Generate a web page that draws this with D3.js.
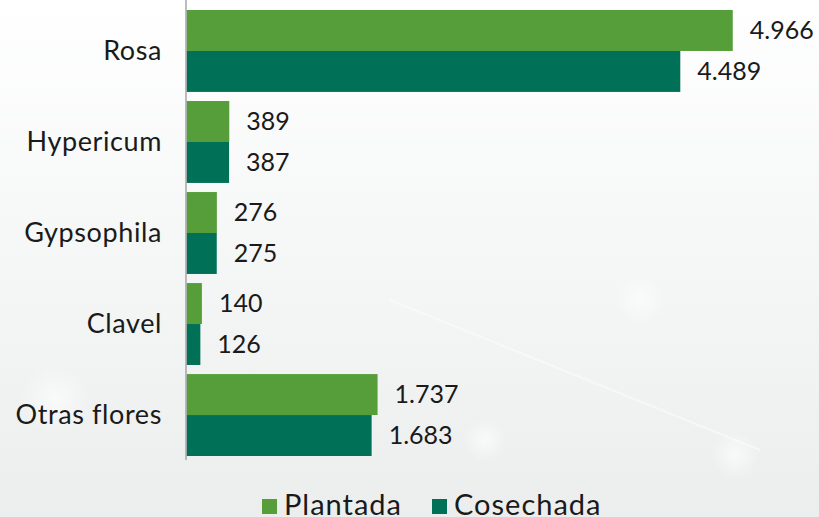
<!DOCTYPE html>
<html>
<head>
<meta charset="utf-8">
<script src="https://cdn.jsdelivr.net/npm/d3@7"></script>
<style>
    body { margin: 0; overflow: hidden; }
    svg { display: block; }
    text { font-family: "Lato", "DejaVu Sans", sans-serif; fill: #1a1a1a; }
</style>
</head>
<body>
<div id="chart"></div>
<script>
var categories = ["Rosa", "Hypericum", "Gypsophila", "Clavel", "Otras flores"];
var seriesNames = ["Plantada", "Cosechada"];
var plantada = [4966, 389, 276, 140, 1737];
var cosechada = [4489, 387, 275, 126, 1683];
var colors = ["#559e3a", "#007056"];

var width = 819,
    height = 517,
    axisX = 186;

var data = categories.map(function (c, i) {
    return { cat: c, values: [plantada[i], cosechada[i]] };
});

var locale = d3.formatLocale({ decimal: ",", thousands: ".", grouping: [3], currency: ["", ""] });
var fmt = locale.format(",d");

var svg = d3.select("#chart").append("svg")
    .attr("width", width)
    .attr("height", height);

// background
var defs = svg.append("defs");
var bg = defs.append("linearGradient")
    .attr("id", "bg")
    .attr("x1", 0).attr("y1", 0).attr("x2", 0).attr("y2", 1);
bg.append("stop").attr("offset", "0%").attr("stop-color", "#ffffff");
bg.append("stop").attr("offset", "45%").attr("stop-color", "#f6f7f7");
bg.append("stop").attr("offset", "100%").attr("stop-color", "#eceeee");

var glow = defs.append("radialGradient").attr("id", "glow");
glow.append("stop").attr("offset", "0%").attr("stop-color", "#ffffff").attr("stop-opacity", 0.6);
glow.append("stop").attr("offset", "100%").attr("stop-color", "#ffffff").attr("stop-opacity", 0);

svg.append("rect")
    .attr("width", width)
    .attr("height", height)
    .attr("fill", "url(#bg)");

svg.append("line")
    .attr("x1", 390).attr("y1", 300).attr("x2", 760).attr("y2", 450)
    .attr("stroke", "#ffffff").attr("stroke-width", 2).attr("opacity", 0.45);
svg.append("circle").attr("cx", 485).attr("cy", 440).attr("r", 22).attr("fill", "url(#glow)");
svg.append("circle").attr("cx", 735).attr("cy", 455).attr("r", 24).attr("fill", "url(#glow)");
svg.append("circle").attr("cx", 55).attr("cy", 400).attr("r", 35).attr("fill", "url(#glow)");
svg.append("circle").attr("cx", 640).attr("cy", 300).attr("r", 25).attr("fill", "url(#glow)");

var x = d3.scaleLinear()
    .domain([0, 5000])
    .range([axisX + 0.5, axisX + 0.5 + 550]);

var y = d3.scaleBand()
    .domain(categories)
    .range([6, 460])
    .paddingInner(0.1)
    .paddingOuter(0.044);

var ySub = d3.scaleBand()
    .domain(seriesNames)
    .range([0, y.bandwidth()]);

var yAxis = d3.axisLeft(y)
    .tickSize(0)
    .tickPadding(24);

var gAxis = svg.append("g")
    .attr("class", "y axis")
    .attr("transform", "translate(" + axisX + ",0)")
    .call(yAxis);

gAxis.select(".domain").remove();
gAxis.selectAll("text")
    .style("font-size", "27px")
    .style("letter-spacing", "0.6px")
    .attr("fill", "#1a1a1a");

var groups = svg.selectAll(".cat")
    .data(data)
    .enter().append("g")
    .attr("class", "cat")
    .attr("transform", function (d) {
        return "translate(0," + y(d.cat) + ")";
    });

groups.selectAll("rect")
    .data(function (d) {
        return d.values.map(function (v, i) { return { name: seriesNames[i], value: v, i: i }; });
    })
    .enter().append("rect")
    .attr("x", x(0))
    .attr("y", function (d) { return ySub(d.name); })
    .attr("width", function (d) { return x(d.value) - x(0); })
    .attr("height", ySub.bandwidth())
    .attr("fill", function (d) { return colors[d.i]; });

groups.selectAll("text.label")
    .data(function (d) {
        return d.values.map(function (v, i) { return { name: seriesNames[i], value: v }; });
    })
    .enter().append("text")
    .attr("class", "label")
    .attr("x", function (d) { return x(d.value) + 17; })
    .attr("y", function (d) { return ySub(d.name) + ySub.bandwidth() / 2; })
    .attr("dy", "0.35em")
    .style("font-size", "25px")
    .text(function (d) { return fmt(d.value); });

// axis line
svg.append("line")
    .attr("x1", axisX).attr("x2", axisX)
    .attr("y1", 0).attr("y2", 460)
    .attr("stroke", "#a6a6a6")
    .attr("stroke-width", 1.5);

// legend
var legendX = [262, 432];
var legend = svg.selectAll(".legend")
    .data(seriesNames)
    .enter().append("g")
    .attr("class", "legend")
    .attr("transform", function (d, i) { return "translate(" + legendX[i] + ",499)"; });

legend.append("rect")
    .attr("width", 15)
    .attr("height", 15)
    .attr("fill", function (d, i) { return colors[i]; });

legend.append("text")
    .attr("x", 22)
    .attr("y", 16)
    .style("font-size", "29px")
    .style("letter-spacing", "1px")
    .text(function (d) { return d; });
</script>
</body>
</html>
